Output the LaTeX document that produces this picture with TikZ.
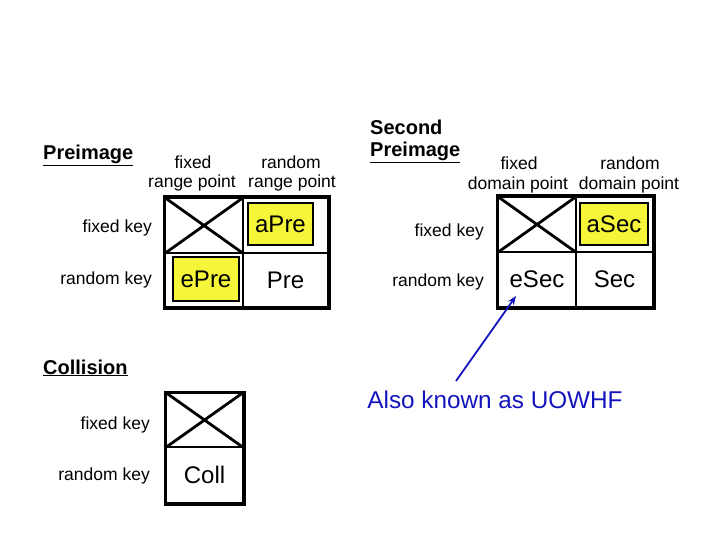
\documentclass[tikz,border=0pt]{standalone}
\usepackage{fontspec}
\setmainfont{Liberation Sans}
\usetikzlibrary{arrows.meta}
\definecolor{cellyellow}{RGB}{245,245,58}
\definecolor{noteblue}{RGB}{20,20,190}
\tikzset{
  lbl/.style={inner sep=0pt, font=\fontsize{17.5}{20}\selectfont},
  rowlbl/.style={lbl, anchor=east},
  ttl/.style={inner sep=0pt, anchor=base west, font=\fontsize{20}{22}\selectfont\bfseries},
  cell/.style={draw, line width=2pt, minimum width=#1, inner sep=0pt, font=\fontsize{24}{26}\selectfont},
  ybox/.style={draw, line width=1.3pt, fill=cellyellow, inner sep=0pt, font=\fontsize{24}{26}\selectfont},
  cross/.style={line width=2.8pt},
  frame/.style={line width=3pt},
  note/.style={inner sep=0pt, text=noteblue, font=\fontsize{24.3}{26}\selectfont},
  notearrow/.style={draw=noteblue, line width=1.8pt, -{Stealth[length=9pt,width=7pt]}}
}
\begin{document}
\begin{tikzpicture}[x=1pt,y=-1pt]
\useasboundingbox (0,0) rectangle (720,540);

% ---------- Preimage ----------
\node[ttl] (pt) at (43,160) {\underline{Preimage}};
\node[lbl] (pfa) at (193,162) {fixed};
\node[lbl] (pfb) at (192,183) {range point};
\node[lbl] (pra) at (291,162) {random};
\node[lbl] (prb) at (292,183) {range point};
\node[rowlbl] (pk1) at (152,228) {fixed key};
\node[rowlbl] (pk2) at (152,280) {random key};

\node[cell=78pt, minimum height=55pt] (p11) at (204,225.5) {};
\node[cell=85pt, minimum height=55pt] (p12) at (285.5,225.5) {};
\node[cell=78pt, minimum height=54pt] (p21) at (204,280) {};
\node[cell=85pt, minimum height=54pt] (p22) at (285.5,280) {Pre};
\draw[cross] (p11.north west) -- (p11.south east) (p11.north east) -- (p11.south west);
\node[ybox, minimum width=65pt, minimum height=42pt] (aPre) at (280.5,224) {aPre};
\node[ybox, minimum width=66pt, minimum height=44pt] (ePre) at (206,279) {ePre};
\draw[frame] (p11.north west) rectangle (p22.south east);

% ---------- Second Preimage ----------
\node[ttl] (st1) at (370,135) {Second};
\node[ttl] (st2) at (370,157) {\underline{Preimage}};
\node[lbl] (sfa) at (519,163) {fixed};
\node[lbl] (sfb) at (518,185) {domain point};
\node[lbl] (sra) at (630,163) {random};
\node[lbl] (srb) at (629,185) {domain point};
\node[rowlbl] (sk1) at (484,232) {fixed key};
\node[rowlbl] (sk2) at (484,282) {random key};

\node[cell=78pt, minimum height=55pt] (s11) at (537,224.5) {};
\node[cell=77pt, minimum height=55pt] (s12) at (614.5,224.5) {};
\node[cell=78pt, minimum height=55pt] (s21) at (537,279.5) {eSec};
\node[cell=77pt, minimum height=55pt] (s22) at (614.5,279.5) {Sec};
\draw[cross] (s11.north west) -- (s11.south east) (s11.north east) -- (s11.south west);
\node[ybox, minimum width=68pt, minimum height=42pt] (aSec) at (614,224) {aSec};
\draw[frame] (s11.north west) rectangle (s22.south east);

% ---------- Collision ----------
\node[ttl] (ct) at (43,374) {\underline{Collision}};
\node[rowlbl] (ck1) at (150,425) {fixed key};
\node[rowlbl] (ck2) at (150,476) {random key};
\node[cell=77pt, minimum height=54pt] (c1) at (204.5,420) {};
\node[cell=77pt, minimum height=56pt] (c2) at (204.5,475) {Coll};
\draw[cross] (c1.north west) -- (c1.south east) (c1.north east) -- (c1.south west);
\draw[frame] (c1.north west) rectangle (c2.south east);

% ---------- Note ----------
\node[note] (uowhf) at (495,400) {Also known as UOWHF};
\coordinate (tail) at (456,381);
\coordinate (tip) at (516,296);
\draw[notearrow] (tail) -- (tip);
\end{tikzpicture}
\end{document}
